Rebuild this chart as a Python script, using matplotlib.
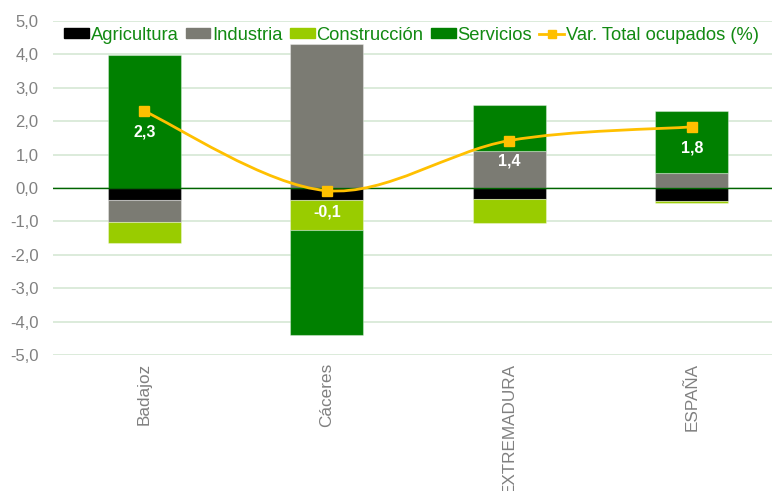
import numpy as np
import matplotlib.pyplot as plt
from matplotlib.path import Path
from matplotlib.patches import PathPatch
from matplotlib.ticker import FuncFormatter
from matplotlib.lines import Line2D

plt.rcParams['font.family'] = ['Liberation Sans', 'DejaVu Sans']

# Data (variation by sector, percentage points)
regions = ['Badajoz', 'Cáceres', 'EXTREMADURA', 'ESPAÑA']
agricultura = [-0.35, -0.35, -0.33, -0.38]
industria = [-0.66, 4.32, 1.10, 0.46]
construccion = [-0.65, -0.92, -0.72, -0.06]
servicios = [3.97, -3.13, 1.38, 1.84]
var_total = [2.30, -0.08, 1.42, 1.83]

series = [('Agricultura', agricultura, '#000000'),
          ('Industria', industria, '#7B7B73'),
          ('Construcción', construccion, '#99CC00'),
          ('Servicios', servicios, '#008000')]

text_green = '#128A12'
tick_gray = '#808080'
line_color = '#FFC000'

fig = plt.figure(figsize=(7.72, 4.91), dpi=100)
ax = fig.add_axes([53 / 772, 136 / 491, 730 / 772, 334 / 491])

x = np.arange(len(regions))
pos_bottom = np.zeros(len(regions))
neg_bottom = np.zeros(len(regions))
for name, vals, color in series:
    vals = np.array(vals)
    bottoms = np.where(vals >= 0, pos_bottom, neg_bottom)
    ax.bar(x, vals, width=0.4, bottom=bottoms, color=color,
           edgecolor=(1, 1, 1, 0.35), linewidth=0.8, zorder=3, label=name)
    pos_bottom += np.where(vals >= 0, vals, 0)
    neg_bottom += np.where(vals < 0, vals, 0)

# Smoothed line (Bezier through the points, like Excel's smoothed line)
pts = np.column_stack([x, var_total]).astype(float)
ext = np.vstack([pts[0], pts, pts[-1]])
verts = [tuple(pts[0])]
codes = [Path.MOVETO]
for i in range(len(pts) - 1):
    p0, p1, p2, p3 = ext[i], ext[i + 1], ext[i + 2], ext[i + 3]
    c1 = p1 + (p2 - p0) / 6
    c2 = p2 - (p3 - p1) / 6
    verts += [tuple(c1), tuple(c2), tuple(p2)]
    codes += [Path.CURVE4] * 3
ax.add_patch(PathPatch(Path(verts, codes), facecolor='none',
                       edgecolor=line_color, linewidth=2, zorder=4))
ax.plot(x, var_total, linestyle='none', marker='s', markersize=7,
        color=line_color, zorder=5)

for xi, v in zip(x, var_total):
    ax.annotate(f'{v:.1f}'.replace('.', ','), (xi, v), xytext=(0, -15),
                textcoords='offset points', ha='center', va='center',
                color='white', fontsize=11.5, fontweight='bold', zorder=6)

# Axes styling
ax.set_xlim(-0.5, 3.5)
ax.set_ylim(-5, 5)
ax.set_yticks(np.arange(-5, 5.1, 1))
ax.yaxis.set_major_formatter(FuncFormatter(lambda v, p: f'{v:.1f}'.replace('.', ',')))
ax.grid(axis='y', color='#D5E8D4', linewidth=1.2, zorder=0)
ax.axhline(0, color='#006400', linewidth=1, zorder=3.5)
for s in ax.spines.values():
    s.set_visible(False)
ax.tick_params(axis='y', length=0, pad=10.5, labelsize=12, labelcolor=tick_gray)
ax.set_xticks(x)
ax.set_xticklabels(regions, rotation=90, va='top')
ax.tick_params(axis='x', length=0, pad=5.5, labelsize=12.3, labelcolor=tick_gray)

handles = [plt.Rectangle((0, 0), 1, 1, color=c) for _, _, c in series]
handles.append(Line2D([], [], color=line_color, linewidth=2, marker='s', markersize=6))
labels = [n for n, _, _ in series] + ['Var. Total ocupados (%)']
leg = ax.legend(handles, labels, loc='upper left', bbox_to_anchor=(0.005, 1.005),
                ncol=5, frameon=False, fontsize=13.2, handlelength=1.35,
                handleheight=0.45, handletextpad=0.1, columnspacing=0.4,
                borderaxespad=0)
for t in leg.get_texts():
    t.set_color(text_green)

fig.savefig('out.png', dpi=100, facecolor='white')
